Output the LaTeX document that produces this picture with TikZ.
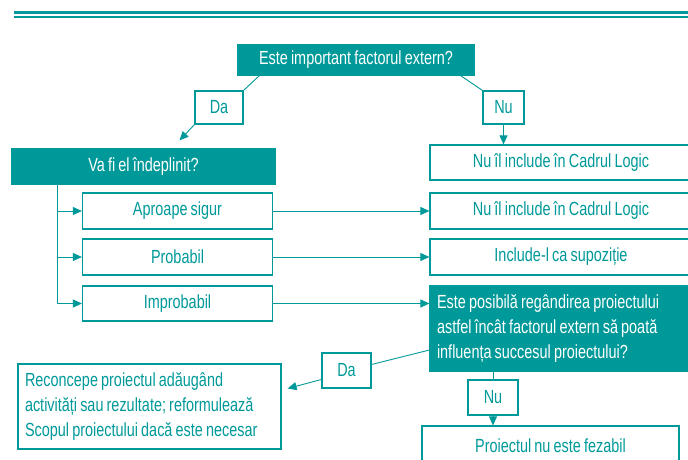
\documentclass[tikz,border=0pt]{standalone}
\usepackage{fontspec}
\setmainfont[FakeStretch=0.76, WordSpace=0.78]{Liberation Sans}
\usetikzlibrary{arrows.meta}
\usetikzlibrary{positioning}
\definecolor{teal1}{RGB}{0,153,153}

\begin{document}
\begin{tikzpicture}[x=1pt, y=-1pt,
    every node/.style = {draw=teal1, line width=1.2pt, inner sep=0pt,
      font=\fontsize{19}{25}\selectfont,
      execute at begin node={\spaceskip=0pt\xspaceskip=0pt\relax}},
    qbox/.style = {fill=teal1, text=white},
    abox/.style = {fill=white, text=teal1},
    lbl/.style = {abox, minimum height=33pt},
    link/.style = {draw=teal1, line width=0.9pt},
    >={Triangle[length=9pt,width=8pt]}]
  \useasboundingbox (0,0) rectangle (688,460);

  % header rule
  \fill[teal1] (14,11) rectangle (688,14.5);
  \fill[teal1] (14,16.5) rectangle (688,18);

  % first question
  \node[qbox, minimum width=236pt, minimum height=30pt] (q1) at (356,60) {Este important factorul extern?};
  \node[lbl, minimum width=48pt] (da1) at (219,107.5) {Da};
  \node[lbl, minimum width=41pt] (nu1) at (503.5,107.5) {Nu};

  % left branch
  \node[qbox, minimum width=263pt, minimum height=35pt] (q2) at (143.5,166.5) {Va fi el îndeplinit?};
  \node[abox, minimum width=190pt, minimum height=36pt] (a1) at (177.5,211) {Aproape sigur};
  \node[abox, minimum width=190pt, minimum height=36pt] (a2) at (177.5,257) {Probabil};
  \node[abox, minimum width=190pt, minimum height=35pt] (a3) at (177.5,303.5) {Improbabil};

  % right column
  \node[abox, minimum width=262pt, minimum height=35pt] (r0) at (561,162.5) {Nu îl include în Cadrul Logic};
  \node[abox, minimum width=262pt, minimum height=36pt] (r1) at (561,211) {Nu îl include în Cadrul Logic};
  \node[abox, minimum width=262pt, minimum height=36pt] (r2) at (561,257) {Include-l ca supoziție};
  \node[qbox, minimum width=262pt, minimum height=85pt, text width=248pt, align=left] (q3) at (561,328.5)
    {Este posibilă regândirea proiectului\\astfel încât factorul extern să poată\\influența succesul proiectului?};

  % last answers
  \node[lbl, minimum width=49pt, minimum height=35pt] (da2) at (346.5,370.5) {Da};
  \node[abox, minimum width=263pt, minimum height=85pt, text width=249pt, align=left] (rc) at (149.5,406.5)
    {Reconcepe proiectul adăugând\\activități sau rezultate; reformulează\\Scopul proiectului dacă este necesar};
  \node[lbl, minimum width=50pt, minimum height=35pt] (nu2) at (493,397.5) {Nu};
  \node[abox, minimum width=257pt, minimum height=40pt] (pf) at (550.5,446) {Proiectul nu este fezabil};

  \coordinate (trunk) at ([xshift=46pt]q2.south west);

  \draw[link] ([xshift=22pt]q1.south west) -- (da1.north east);
  \draw[link, ->] (da1.south west) -- ([xshift=36pt,yshift=8pt]q2.north);
  \draw[link] ([xshift=-14pt]q1.south east) -- (nu1.north west);
  \draw[link, ->] (nu1.south) -- (nu1.south |- r0.north);

  \foreach \n in {a1,a2,a3}
    \draw[link, ->] (trunk) |- (\n.west);

  \draw[link, ->] (a1.east) -- (r1.west);
  \draw[link, ->] (a2.east) -- (r2.west);
  \draw[link, ->] (a3.east) -- (a3.east -| q3.west);

  \draw[link] ([yshift=-21.5pt]q3.west) -- ([yshift=6pt]da2.east);
  \draw[link, ->] ([yshift=-9pt]da2.west) -- ([xshift=6pt,yshift=18pt]rc.east);
  \draw[link] (nu2.north |- q3.south) -- (nu2.north);
  \draw[link, ->] (nu2.south) -- (nu2.south |- pf.north);
\end{tikzpicture}
\end{document}
